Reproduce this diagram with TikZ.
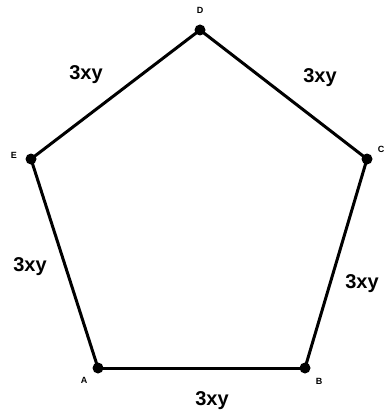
\documentclass[tikz,border=0pt]{standalone}
\usepackage{fontspec}
\setmainfont{Liberation Sans}
\usetikzlibrary{positioning}

\begin{document}
\begin{tikzpicture}[x=1pt,y=-1pt,
  vx/.style={circle,fill=black,inner sep=0pt,minimum size=11pt},
  vl/.style={font=\fontsize{9}{10}\selectfont\bfseries,inner sep=0pt},
  sd/.style={font=\fontsize{20}{24}\selectfont\bfseries,inner sep=0pt},
  ed/.style={line width=3pt}]
\useasboundingbox (0,0) rectangle (383,414);
\node[vx] (a) at (98,368) {};
\node[vx] (b) at (305,368) {};
\node[vx] (c) at (367,159) {};
\node[vx] (d) at (200,30) {};
\node[vx] (e) at (31,159) {};
\foreach \x/\y in {a/b,b/c,c/d,d/e,e/a} \draw[ed] (\x.center) -- (\y.center);
% vertex names
\node[vl] (la) at (84,380) {A};
\node[vl] (lb) at (319,381) {B};
\node[vl] (lc) at (381,149) {C};
\node[vl] (ld) at (200,10) {D};
\node[vl] (le) at (14,155) {E};
% side lengths
\node[sd] (sab) at (212,401) {3xy};
\node[sd] (sbc) at (362,284) {3xy};
\node[sd] (scd) at (320,78) {3xy};
\node[sd] (sde) at (86,75) {3xy};
\node[sd] (sea) at (30,267) {3xy};
\end{tikzpicture}
\end{document}
